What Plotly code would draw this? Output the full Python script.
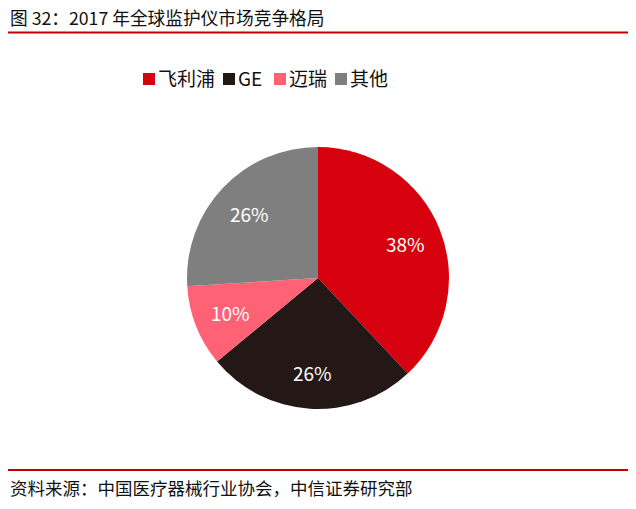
import math
import plotly.graph_objects as go

# 2017 global patient monitor market share
companies = ["飞利浦", "GE", "迈瑞", "其他"]
shares = [38, 26, 10, 26]
colors = ["#D7000F", "#231815", "#FF6275", "#7F7F7F"]

title_text = "图 32：2017 年全球监护仪市场竞争格局"
source_text = "资料来源：中国医疗器械行业协会，中信证券研究部"

font_family = "Noto Sans CJK SC, Liberation Sans, Arial, sans-serif"
# page body has an 8px margin, so the figure is 16px smaller than the window
OFF = 8
W, H = 636 - 2 * OFF, 509 - 2 * OFF


def px_x(x):
    return (x - OFF) / W


def px_y(y):
    return 1 - (y - OFF) / H


cx, cy, rad = 318, 278, 131  # pie centre / radius in page px

fig = go.Figure()
fig.add_trace(go.Pie(
    labels=companies,
    values=shares,
    marker=dict(colors=colors, line=dict(color="white", width=0)),
    sort=False,
    direction="clockwise",
    rotation=0,
    textinfo="none",
    hoverinfo="label+percent",
    domain=dict(x=[px_x(cx - rad), px_x(cx + rad)], y=[px_y(cy + rad), px_y(cy - rad)]),
    showlegend=False,
))

# percentage labels, Excel-like placement at ~72% of the radius
total = sum(shares)
acc = 0
for v in shares:
    mid = (acc + v / 2) / total * 2 * math.pi
    acc += v
    lx = cx + 0.72 * rad * math.sin(mid)
    ly = cy - 0.72 * rad * math.cos(mid)
    fig.add_annotation(text=f"{v / total:.0%}", x=px_x(lx), y=px_y(ly),
                       xref="paper", yref="paper", showarrow=False,
                       xanchor="center", yanchor="middle",
                       font=dict(size=19, color="white", family=font_family))

fig.update_layout(
    width=W, height=H,
    margin=dict(l=0, r=0, t=0, b=0, autoexpand=False),
    paper_bgcolor="white",
    plot_bgcolor="white",
    font=dict(family=font_family, color="#000000"),
    showlegend=False,
)

# hand-made legend: coloured squares + names (positions in page px)
legend_x = [143, 223, 274, 335]
for name, col, lx in zip(companies, colors, legend_x):
    fig.add_shape(type="rect", xref="paper", yref="paper",
                  x0=px_x(lx), x1=px_x(lx + 12), y0=px_y(85), y1=px_y(73),
                  fillcolor=col, line=dict(width=0))
    fig.add_annotation(text=name, x=px_x(lx + 13), y=px_y(78), xref="paper", yref="paper",
                       xanchor="left", yanchor="middle", showarrow=False,
                       font=dict(size=19, color="#111111", family=font_family))

# title and source texts
fig.add_annotation(text=title_text, x=px_x(9), y=px_y(17), xref="paper", yref="paper",
                   xanchor="left", yanchor="middle", showarrow=False, borderpad=0,
                   font=dict(size=17.7, color="#111111", family=font_family))
fig.add_annotation(text=source_text, x=px_x(9), y=0, xref="paper", yref="paper",
                   xanchor="left", yanchor="bottom", showarrow=False, borderpad=0,
                   font=dict(size=17.5, color="#111111", family=font_family))

# red rules under title and above source
for yy in [32.5, 470]:
    fig.add_shape(type="line", xref="paper", yref="paper",
                  x0=0, x1=1, y0=px_y(yy), y1=px_y(yy),
                  line=dict(color="#C00000", width=2))

fig.write_html("out.html")
